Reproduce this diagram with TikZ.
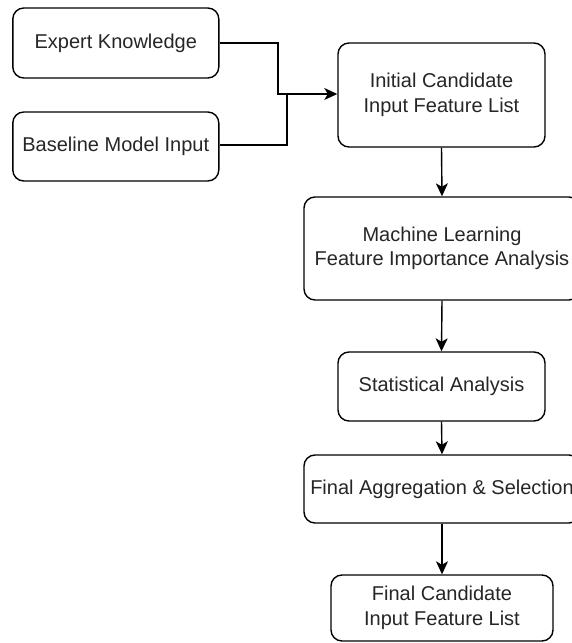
\documentclass[tikz,border=0pt]{standalone}
\usepackage{fontspec}
\setmainfont{Liberation Sans}
\usetikzlibrary{arrows.meta}
\begin{document}
\begin{tikzpicture}[x=1pt,y=-1pt,
  box/.style={draw=black, line width=1.4pt, rounded corners=11pt, fill=white,
    inner sep=0pt, align=center, font=\fontsize{20}{24.5}\selectfont, text=black!85},
  conn/.style={draw=black, line width=1.4pt},
  arr/.style={conn, -{Stealth[length=13pt,width=12pt,inset=3.5pt]}}]
\useasboundingbox (0,0) rectangle (572,643);
\clip (0,0) rectangle (572,643);
\node[box, minimum width=206pt, minimum height=70pt] (ek) at (115.8,43) {Expert Knowledge};
\node[box, minimum width=206pt, minimum height=69pt] (bm) at (115.8,146.5) {Baseline Model Input};
\node[box, minimum width=207pt, minimum height=104pt] (ic) at (441.5,95) {Initial Candidate\\Input Feature List};
\node[box, minimum width=276pt, minimum height=103pt] (ml) at (442,248.5) {Machine Learning\\Feature Importance Analysis};
\node[box, minimum width=207pt, minimum height=69pt] (sa) at (441.5,386.5) {Statistical Analysis};
\node[box, minimum width=276pt, minimum height=68pt] (fa) at (442,489) {Final Aggregation \& Selection};
\node[box, minimum width=222pt, minimum height=66pt] (fc) at (442,608) {Final Candidate\\Input Feature List};
\coordinate (j1) at (278,43);
\coordinate (j2) at (278,94);
\coordinate (k1) at (287,145);
\coordinate (k2) at (287,94);
\draw[conn] (bm.east |- k1) -- (k1) -- (k2);
\draw[arr] (ek.east) -- (j1) -- (j2) -- (ic.west |- j2);
\draw[arr] (ic.south) -- (ml.north);
\draw[arr] (ml.south) -- (sa.north);
\draw[arr] (sa.south) -- (fa.north);
\draw[arr] (fa.south) -- (fc.north);
\end{tikzpicture}
\end{document}
